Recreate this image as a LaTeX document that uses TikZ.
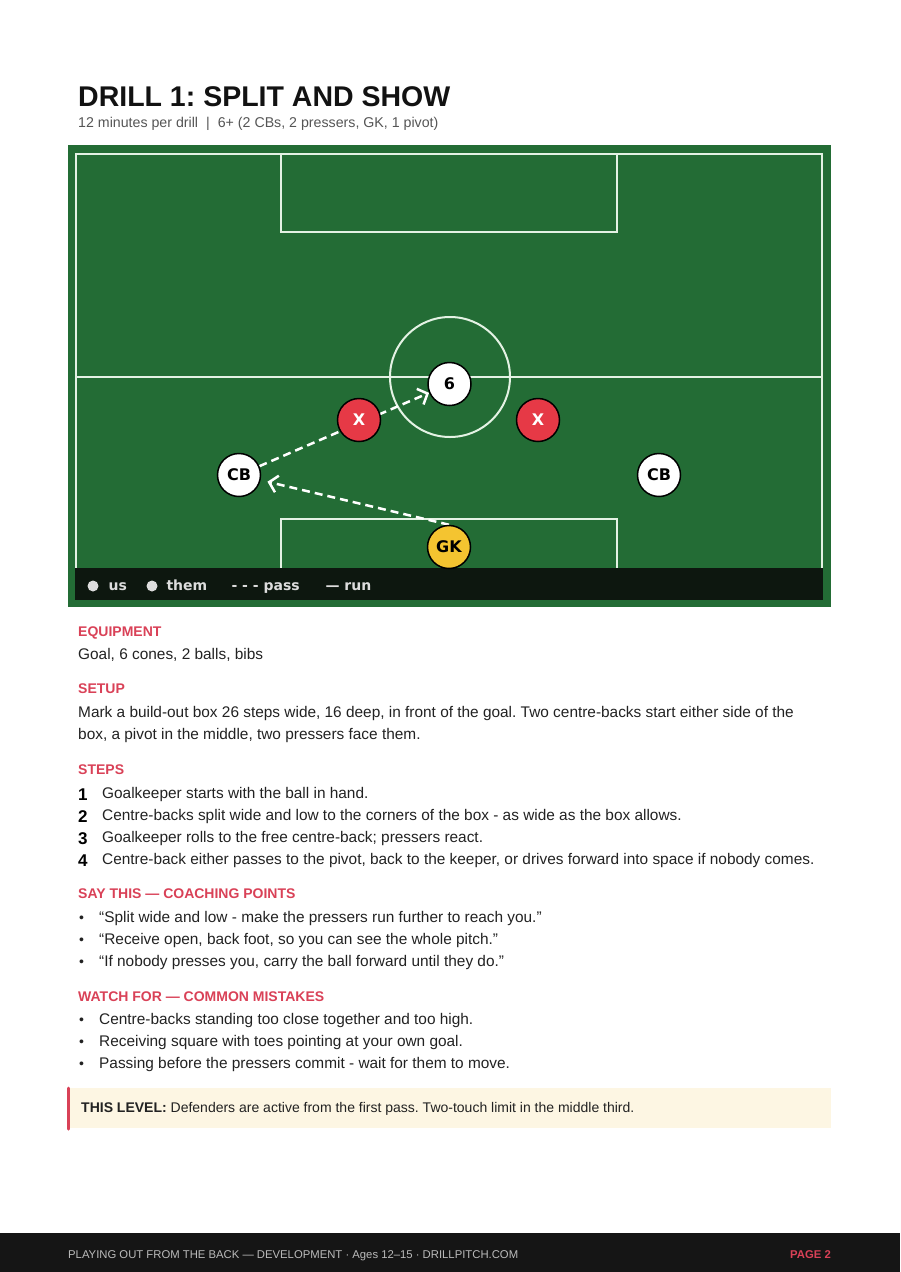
\documentclass[tikz,border=0pt]{standalone}
\usepackage{fontspec}
\setmainfont{Liberation Sans}
\newfontfamily\pitchfont{DejaVu Sans}
\usetikzlibrary{positioning, arrows.meta, backgrounds}
\frenchspacing

\definecolor{pitchgreen}{HTML}{236C35}
\definecolor{pitchline}{HTML}{E4F2E4}
\definecolor{legendbar}{HTML}{0D170F}
\definecolor{legenddot}{HTML}{DDDDDD}
\definecolor{oppred}{HTML}{E63946}
\definecolor{gkyellow}{HTML}{F4C430}
\definecolor{headred}{HTML}{D94157}
\definecolor{bodygray}{HTML}{222222}
\definecolor{subgray}{HTML}{555555}
\definecolor{notecream}{HTML}{FDF6E3}
\definecolor{footdark}{HTML}{151515}
\definecolor{footgray}{HTML}{BBBBBB}

\newcommand{\fsz}[1]{\fontsize{#1}{#1}\selectfont}

\begin{document}
\begin{tikzpicture}[
		x=1pt, y=-1pt,
		line/.style={draw=pitchline, line width=2pt},
		player/.style={circle, draw=black, line width=1.5pt, minimum size=43pt, inner sep=0pt, font=\pitchfont\bfseries\fsz{16}},
		us/.style={player, fill=white, text=black},
		them/.style={player, fill=oppred, text=white},
		keeper/.style={player, fill=gkyellow, text=black},
		pass/.style={draw=white, line width=2.5pt, dash pattern=on 8pt off 5pt, -{Straight Barb[length=8pt, width=17pt]}},
		legdot/.style={circle, fill=legenddot, minimum size=11pt, inner sep=0pt},
		legtext/.style={anchor=base west, text=legenddot, font=\pitchfont\bfseries\fsz{14}},
		heading/.style={anchor=base west, inner sep=0pt, text=headred, font=\bfseries\fsz{14}},
		body/.style={anchor=base west, inner sep=0pt, text=bodygray, font=\fsz{15.4}},
		stepnum/.style={anchor=base west, inner sep=0pt, text=black, font=\bfseries\fsz{17}},
		bullet/.style={anchor=base west, inner sep=0pt, text=bodygray, font=\fsz{14}}
		]
		\useasboundingbox (0,0) rectangle (900,1272);
		
		% 1. Title
		\node[anchor=base west, inner sep=0pt, text=black!93, font=\bfseries\fsz{28.5}] (title) at (78,106) {DRILL 1: SPLIT AND SHOW};
		\node[anchor=base west, inner sep=0pt, text=subgray, font=\fsz{14.2}] (subtitle) at (78,127) {12 minutes per drill\hspace{8pt}|\hspace{8pt}6+ (2 CBs, 2 pressers, GK, 1 pivot)};
		
		% 2. Legend bar
		\fill[legendbar] (75,568) rectangle (823,600);
		\node[legdot] (dotus) at (93,586) {};
		\node[legtext] (legus) at (105,590) {us};
		\node[legdot] (dotthem) at (152,586) {};
		\node[legtext] (legthem) at (163,590) {them};
		\node[legtext] (legpass) at (228,590) {- - - pass};
		\node[legtext] (legrun) at (322,590) {— run};
		
		% 3. Players
		\node[us] (six) at (449.5,384) {6};
		\node[them] (xl) at (359,420) {X};
		\node[them] (xr) at (538,420) {X};
		\node[us] (cbl) at (239,475) {CB};
		\node[us] (cbr) at (659,475) {CB};
		\node[keeper] (gk) at (449,547) {GK};
		
		% 4. Pitch and passes, behind the players
		\begin{scope}[on background layer]
			\fill[pitchgreen] (68,145) rectangle (831,607);
			\draw[line] (76,154) rectangle (822,575);
			\draw[line] (76,377) -- (822,377);
			\draw[line] (450,377) circle[radius=60];
			\draw[line] (281,154) rectangle (617,232);
			\draw[line] (281,575) |- (617,519) -- (617,575);
			
			\draw[pass, shorten >=7pt] (gk.north) -- (cbl);
			\draw[pass] (cbl) -- (six);
		\end{scope}
		
		% 5. Equipment and setup
		\node[heading] (equiphead) at (78,636) {EQUIPMENT};
		\node[body] (equip) at (78,659) {Goal, 6 cones, 2 balls, bibs};
		\node[heading] (setuphead) at (78,693) {SETUP};
		\node[body] (setupa) at (78,717) {Mark a build-out box 26 steps wide, 16 deep, in front of the goal. Two centre-backs start either side of the};
		\node[body] (setupb) at (78,739) {box, a pivot in the middle, two pressers face them.};
		
		% 6. Steps
		\node[heading] (stepshead) at (78,774) {STEPS};
		\node[stepnum] (num1) at (78,800) {1};
		\node[body] (step1) at (102,798) {Goalkeeper starts with the ball in hand.};
		\node[stepnum] (num2) at (78,822) {2};
		\node[body] (step2) at (102,820) {Centre-backs split wide and low to the corners of the box - as wide as the box allows.};
		\node[stepnum] (num3) at (78,844) {3};
		\node[body] (step3) at (102,842) {Goalkeeper rolls to the free centre-back; pressers react.};
		\node[stepnum] (num4) at (78,866) {4};
		\node[body] (step4) at (102,864) {Centre-back either passes to the pivot, back to the keeper, or drives forward into space if nobody comes.};
		
		% 7. Coaching points
		\node[heading] (sayhead) at (78,898) {SAY THIS — COACHING POINTS};
		\node[bullet] (saydota) at (79,922) {•};
		\node[body] (saya) at (99,922) {“Split wide and low - make the pressers run further to reach you.”};
		\node[bullet] (saydotb) at (79,944) {•};
		\node[body] (sayb) at (99,944) {“Receive open, back foot, so you can see the whole pitch.”};
		\node[bullet] (saydotc) at (79,966) {•};
		\node[body] (sayc) at (99,966) {“If nobody presses you, carry the ball forward until they do.”};
		
		% 8. Common mistakes
		\node[heading] (watchhead) at (78,1001) {WATCH FOR — COMMON MISTAKES};
		\node[bullet] (watchdota) at (79,1024) {•};
		\node[body] (watcha) at (99,1024) {Centre-backs standing too close together and too high.};
		\node[bullet] (watchdotb) at (79,1046) {•};
		\node[body] (watchb) at (99,1046) {Receiving square with toes pointing at your own goal.};
		\node[bullet] (watchdotc) at (79,1068) {•};
		\node[body] (watchc) at (99,1068) {Passing before the pressers commit - wait for them to move.};
		
		% 9. Level note
		\fill[notecream] (68,1088) rectangle (831,1128);
		\draw[headred, line width=3pt, line cap=round] (68.5,1088) -- (68.5,1129);
		\node[anchor=base west, inner sep=0pt, text=bodygray, font=\fsz{14}] (note) at (81,1112) {\textbf{THIS LEVEL:} Defenders are active from the first pass. Two-touch limit in the middle third.};
		
		% 10. Footer
		\fill[footdark] (0,1233) rectangle (900,1272);
		\node[anchor=base west, inner sep=0pt, text=footgray, font=\fsz{11.3}] (foottext) at (68,1258) {PLAYING OUT FROM THE BACK — DEVELOPMENT · Ages 12–15 · DRILLPITCH.COM};
		\node[anchor=base east, inner sep=0pt, text=headred, font=\bfseries\fsz{11.3}] (pagenum) at (831,1258) {PAGE 2};
		
	\end{tikzpicture}
\end{document}
